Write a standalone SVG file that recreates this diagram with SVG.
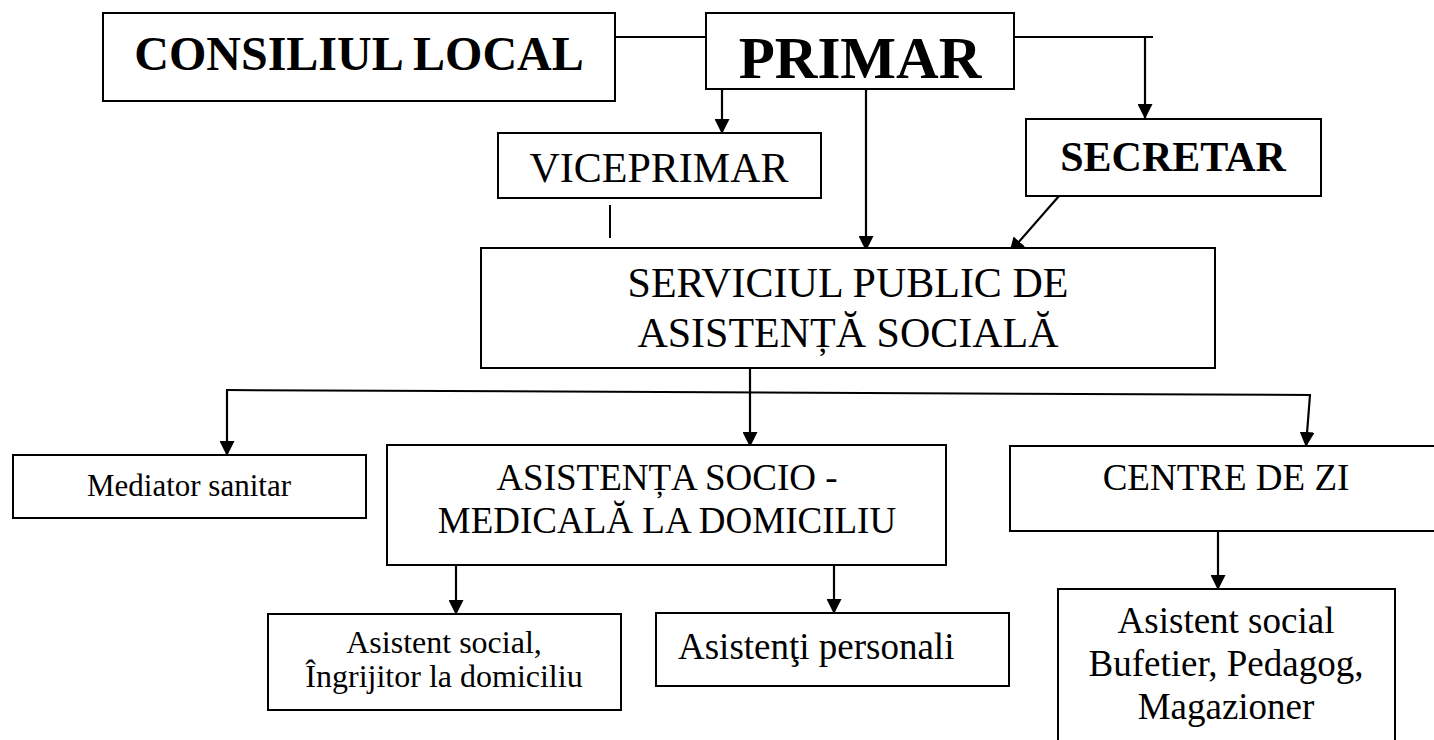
<svg xmlns="http://www.w3.org/2000/svg" width="1434" height="740" viewBox="0 0 1434 740">
<defs>
<style>
.box{fill:#fff;stroke:#000;stroke-width:2}
.t{font-family:"Liberation Serif","Times New Roman",serif;fill:#000;text-anchor:middle}
.b{font-weight:bold}
.ln{fill:none;stroke:#000;stroke-width:2}
.ar{fill:none;stroke:#000;stroke-width:2.2;marker-end:url(#ah)}
</style>
<marker id="ah" markerUnits="userSpaceOnUse" markerWidth="15" markerHeight="15" viewBox="0 0 15 15" refX="14" refY="7.5" orient="auto">
<path d="M0,0 L15,7.5 L0,15 z" fill="#000"/>
</marker>
</defs>
<rect width="1434" height="740" fill="#fff"/>
<g id="connectors">
<line class="ln" x1="615" y1="37" x2="708" y2="37"/>
<line class="ln" x1="1012" y1="37" x2="1153" y2="37"/>
<line class="ar" x1="1145" y1="38" x2="1145" y2="118"/>
<line class="ar" x1="722" y1="89" x2="722" y2="133"/>
<line class="ar" x1="866" y1="89" x2="866" y2="250"/>
<line class="ar" x1="1059" y1="196" x2="1010" y2="252"/>
<line class="ln" x1="610" y1="205" x2="610" y2="238"/>
<line class="ar" x1="750" y1="368" x2="750" y2="446"/>
<line class="ln" x1="226" y1="390" x2="1311" y2="395"/>
<line class="ar" x1="227" y1="390" x2="227" y2="455"/>
<line class="ar" x1="1310" y1="395" x2="1306" y2="446"/>
<line class="ar" x1="456" y1="565" x2="456" y2="614"/>
<line class="ar" x1="834" y1="565" x2="834" y2="613"/>
<line class="ar" x1="1218" y1="531" x2="1218" y2="589"/>
</g>
<g id="consiliul">
<rect class="box" x="103" y="13" width="512" height="88"/>
<text class="t b" x="359" y="70" font-size="48">CONSILIUL LOCAL</text>
</g>
<g id="primar">
<rect class="box" x="706" y="13" width="308" height="76"/>
<text class="t b" x="860" y="78" font-size="59">PRIMAR</text>
</g>
<g id="viceprimar">
<rect class="box" x="498" y="133" width="323" height="65"/>
<text class="t" x="659" y="182" font-size="42">VICEPRIMAR</text>
</g>
<g id="secretar">
<rect class="box" x="1026" y="119" width="295" height="77"/>
<text class="t b" x="1173" y="171" font-size="42">SECRETAR</text>
</g>
<g id="serviciul">
<rect class="box" x="481" y="248" width="734" height="120"/>
<text class="t" x="848" y="297" font-size="42">SERVICIUL PUBLIC DE</text>
<text class="t" x="848" y="347" font-size="42">ASISTENȚĂ SOCIALĂ</text>
</g>
<g id="mediator">
<rect class="box" x="13" y="455" width="353" height="63"/>
<text class="t" x="189" y="496" font-size="31">Mediator sanitar</text>
</g>
<g id="asistenta">
<rect class="box" x="387" y="445" width="559" height="120"/>
<text class="t" x="667" y="490" font-size="37">ASISTENȚA SOCIO -</text>
<text class="t" x="667" y="533" font-size="37">MEDICALĂ LA DOMICILIU</text>
</g>
<g id="centre">
<rect class="box" x="1010" y="446" width="440" height="85"/>
<text class="t" x="1226" y="490" font-size="37">CENTRE DE ZI</text>
</g>
<g id="ingrijitor">
<rect class="box" x="268" y="614" width="353" height="96"/>
<text class="t" x="444" y="653" font-size="32">Asistent social,</text>
<text class="t" x="444" y="687" font-size="32">Îngrijitor la domiciliu</text>
</g>
<g id="personali">
<rect class="box" x="656" y="613" width="353" height="73"/>
<text class="t" x="678" y="659" font-size="37" style="text-anchor:start">Asistenţi personali</text>
</g>
<g id="centre-staff">
<rect class="box" x="1058" y="589" width="337" height="170"/>
<text class="t" x="1226" y="633" font-size="37">Asistent social</text>
<text class="t" x="1226" y="676" font-size="37">Bufetier, Pedagog,</text>
<text class="t" x="1226" y="719" font-size="37">Magazioner</text>
</g>
</svg>
